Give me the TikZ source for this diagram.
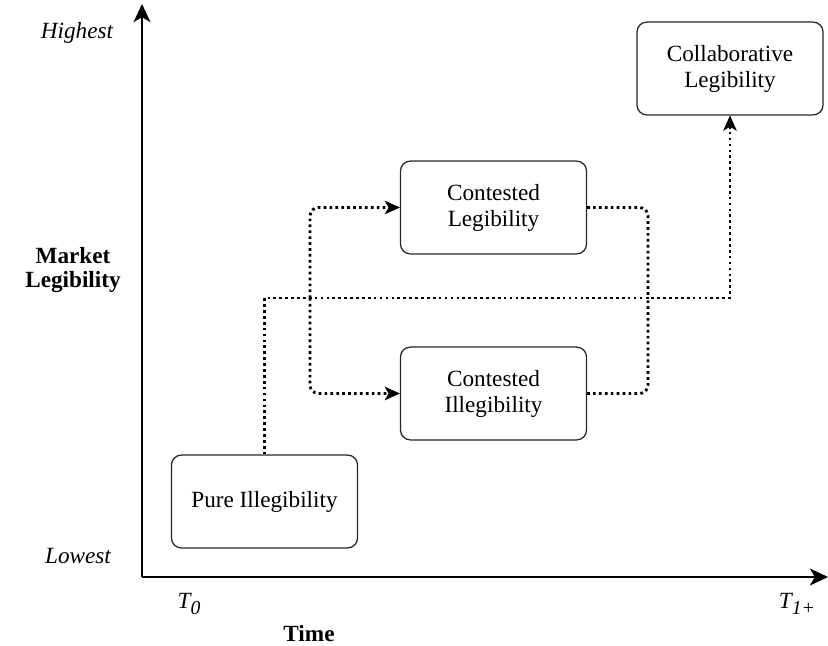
\documentclass[tikz,border=0pt]{standalone}
\usepackage{fontspec}
\setmainfont{Liberation Serif}
\usepackage{tikz}
\usetikzlibrary{arrows.meta, positioning, calc}

\begin{document}
\begin{tikzpicture}[
    x=0.025cm, y=-0.025cm,
    font=\fontsize{16.5}{18.5}\selectfont,
    stage/.style={rectangle, draw=black!85, line width=0.9pt, rounded corners=7pt,
                  minimum width=4.65cm, minimum height=2.32cm, align=center, inner sep=2pt},
    axis/.style={line width=2pt, -{Stealth[length=0.45cm, width=0.42cm, inset=0.12cm]}},
    flow/.style={line width=2pt, dash pattern=on 1.9pt off 2.3pt},
    flowarrow/.style={flow, -{Stealth[length=0.38cm, width=0.34cm, inset=0.1cm, line width=0.6pt]}},
    levellabel/.style={font=\fontsize{16.5}{18.5}\selectfont\itshape}
]
    \useasboundingbox (0,0) rectangle (828,645);

    % axes
    \coordinate (origin) at (142,577);
    \coordinate (ytip)   at (142,4);
    \coordinate (xtip)   at (828,577);
    \draw[axis] (origin) -- (ytip);
    \draw[axis] (origin) -- (xtip);

    % axis labels
    \node[levellabel] (high) at (77,33)  {Highest};
    \node[levellabel] (low)  at (78,556) {Lowest};
    \node[align=center, font=\fontsize{16.5}{16.5}\selectfont\bfseries] (ylab) at (73,270) {Market\\Legibility};
    \node[levellabel] (tzero) at (189,604) {T\raisebox{-0.5ex}{\fontsize{14}{14}\selectfont 0}};
    \node[levellabel] (tone)  at (797,604) {T\raisebox{-0.5ex}{\fontsize{14}{14}\selectfont 1+}};
    \node[font=\fontsize{16.5}{18.5}\selectfont\bfseries] (xlab) at (309,634) {Time};

    % stages
    \node[stage] (pure)   at (264.5,501.5) {Pure Illegibility};
    \node[stage] (contL)  at (493.5,207.5) {Contested\\Legibility};
    \node[stage] (contI)  at (493.5,393.5) {Contested\\Illegibility};
    \node[stage] (collab) at (730,68.5)    {Collaborative\\Legibility};

    % branch points
    \coordinate (split) at (310,298);
    \coordinate (merge) at (648,298);

    % main path
    \draw[flowarrow] (pure.north) |- (split) -- (merge) -| (collab.south);

    % contested branches
    \draw[flowarrow, rounded corners=6pt] (split) |- (contL.west);
    \draw[flowarrow, rounded corners=6pt] (split) |- (contI.west);
    \draw[flow, rounded corners=6pt] (contL.east) -| (merge);
    \draw[flow, rounded corners=6pt] (contI.east) -| (merge);
\end{tikzpicture}
\end{document}
